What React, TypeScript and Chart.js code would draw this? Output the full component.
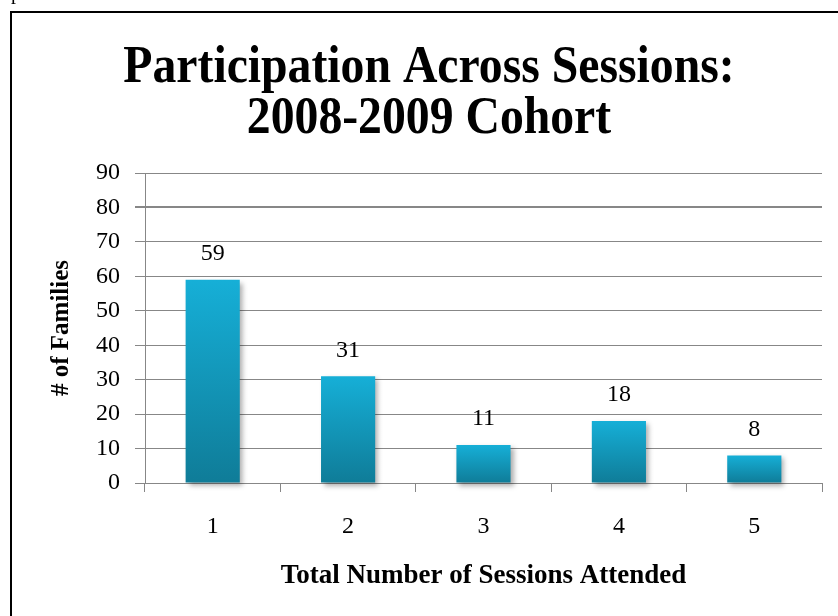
import React, { useEffect, useRef } from "react";
import { Chart, registerables } from "chart.js";

Chart.register(...registerables);

// Sessions attended and family counts
const sessions = ["1", "2", "3", "4", "5"];
const families = [59, 31, 11, 18, 8];
const titleLines = ["Participation Across Sessions:", "2008-2009 Cohort"];
const yTitle = "# of Families";
const xTitle = "Total Number of Sessions Attended";

const SERIF = '"Liberation Serif", "Times New Roman", serif';
const GRID = "#878787";
const BAR_TOP = "#16afd7";
const BAR_BOTTOM = "#0f7c98";

const framePlugin = {
  id: "frame",
  beforeDraw(chart: any) {
    const { ctx, width, height } = chart;
    ctx.save();
    ctx.fillStyle = "#ffffff";
    ctx.fillRect(0, 0, width, height);
    ctx.fillStyle = "#000000";
    ctx.fillRect(10, 11, 2, height);
    ctx.fillRect(10, 11, width, 2);
    // clipped glyph left above the frame
    ctx.font = `20px ${SERIF}`;
    ctx.textBaseline = "alphabetic";
    ctx.fillText("p", 11, -1);
    ctx.restore();
  },
};

const titlePlugin = {
  id: "bigTitle",
  afterDraw(chart: any) {
    const { ctx } = chart;
    const baselines = [82, 133];
    ctx.save();
    ctx.fillStyle = "#000000";
    ctx.font = `bold 53px ${SERIF}`;
    ctx.textAlign = "center";
    ctx.textBaseline = "alphabetic";
    titleLines.forEach((line, i) => {
      ctx.save();
      ctx.translate(429, baselines[i]);
      ctx.scale(0.9, 1);
      ctx.fillText(line, 0, 0);
      ctx.restore();
    });
    ctx.restore();
  },
};

const shadowPlugin = {
  id: "barShadow",
  beforeDatasetsDraw(chart: any) {
    const { ctx } = chart;
    ctx.save();
    ctx.shadowColor = "rgba(0,0,0,0.32)";
    ctx.shadowBlur = 5;
    ctx.shadowOffsetX = 3;
    ctx.shadowOffsetY = 3;
  },
  afterDatasetsDraw(chart: any) {
    chart.ctx.restore();
  },
};

const valueLabelPlugin = {
  id: "valueLabels",
  afterDatasetsDraw(chart: any) {
    const { ctx } = chart;
    const meta = chart.getDatasetMeta(0);
    ctx.save();
    ctx.fillStyle = "#000000";
    ctx.font = `24px ${SERIF}`;
    ctx.textAlign = "center";
    ctx.textBaseline = "middle";
    meta.data.forEach((bar: any, i: number) => {
      ctx.fillText(String(families[i]), bar.x, bar.y - 26);
    });
    ctx.restore();
  },
};

export default function App() {
  const canvasRef = useRef<HTMLCanvasElement | null>(null);

  useEffect(() => {
    const canvas = canvasRef.current;
    if (!canvas) return;
    const chart = new Chart(canvas, {
      type: "bar",
      data: {
        labels: sessions,
        datasets: [
          {
            data: families,
            clip: false as any,
            barPercentage: 0.4,
            categoryPercentage: 1,
            backgroundColor: (c: any) => {
              const y = c.chart.scales && c.chart.scales.y;
              if (!y || c.dataIndex === undefined) return BAR_TOP;
              const v = families[c.dataIndex];
              const y0 = y.getPixelForValue(v);
              const y1 = y.getPixelForValue(0);
              if (!isFinite(y0) || !isFinite(y1) || y0 === y1) return BAR_TOP;
              const g = c.chart.ctx.createLinearGradient(0, y0, 0, y1);
              g.addColorStop(0, BAR_TOP);
              g.addColorStop(1, BAR_BOTTOM);
              return g;
            },
            borderWidth: 0,
          },
        ],
      },
      options: {
        animation: false,
        responsive: false,
        devicePixelRatio: 1,
        layout: { padding: { top: 173, right: 16, left: 0, bottom: 0 } },
        plugins: {
          legend: { display: false },
          title: { display: false },
          tooltip: { enabled: false },
        },
        scales: {
          x: {
            afterFit: (s: any) => {
              s.height = 133;
            },
            grid: {
              display: true,
              drawOnChartArea: false,
              drawTicks: true,
              tickLength: 9,
              color: GRID,
              offset: true,
            },
            border: { display: true, color: GRID, width: 1 },
            ticks: {
              color: "#000000",
              font: { family: SERIF, size: 24 },
              padding: 20,
            },
            title: {
              display: true,
              text: xTitle,
              color: "#000000",
              font: { family: SERIF, size: 27, weight: "bold" },
              padding: { top: 0, bottom: 24 },
            },
          },
          y: {
            min: 0,
            max: 90,
            afterFit: (s: any) => {
              s.width = 145;
            },
            grid: {
              color: GRID,
              lineWidth: (c: any) => (c.tick && c.tick.value === 80 ? 2 : 1),
              drawTicks: true,
              tickLength: 10,
            },
            border: { display: true, color: GRID, width: 1 },
            ticks: {
              stepSize: 10,
              color: "#000000",
              font: { family: SERIF, size: 24 },
              padding: 15,
            },
            title: {
              display: true,
              text: yTitle,
              color: "#000000",
              font: { family: SERIF, size: 25, weight: "bold" },
              padding: { top: 47, bottom: 0 },
            },
          },
        },
      },
      plugins: [framePlugin, shadowPlugin, valueLabelPlugin, titlePlugin],
    });
    return () => chart.destroy();
  }, []);

  return (
    <div style={{ position: "fixed", left: 0, top: 0, width: 838, height: 616, background: "#ffffff" }}>
      <canvas ref={canvasRef} width={838} height={616} style={{ display: "block", width: 838, height: 616 }} />
    </div>
  );
}
